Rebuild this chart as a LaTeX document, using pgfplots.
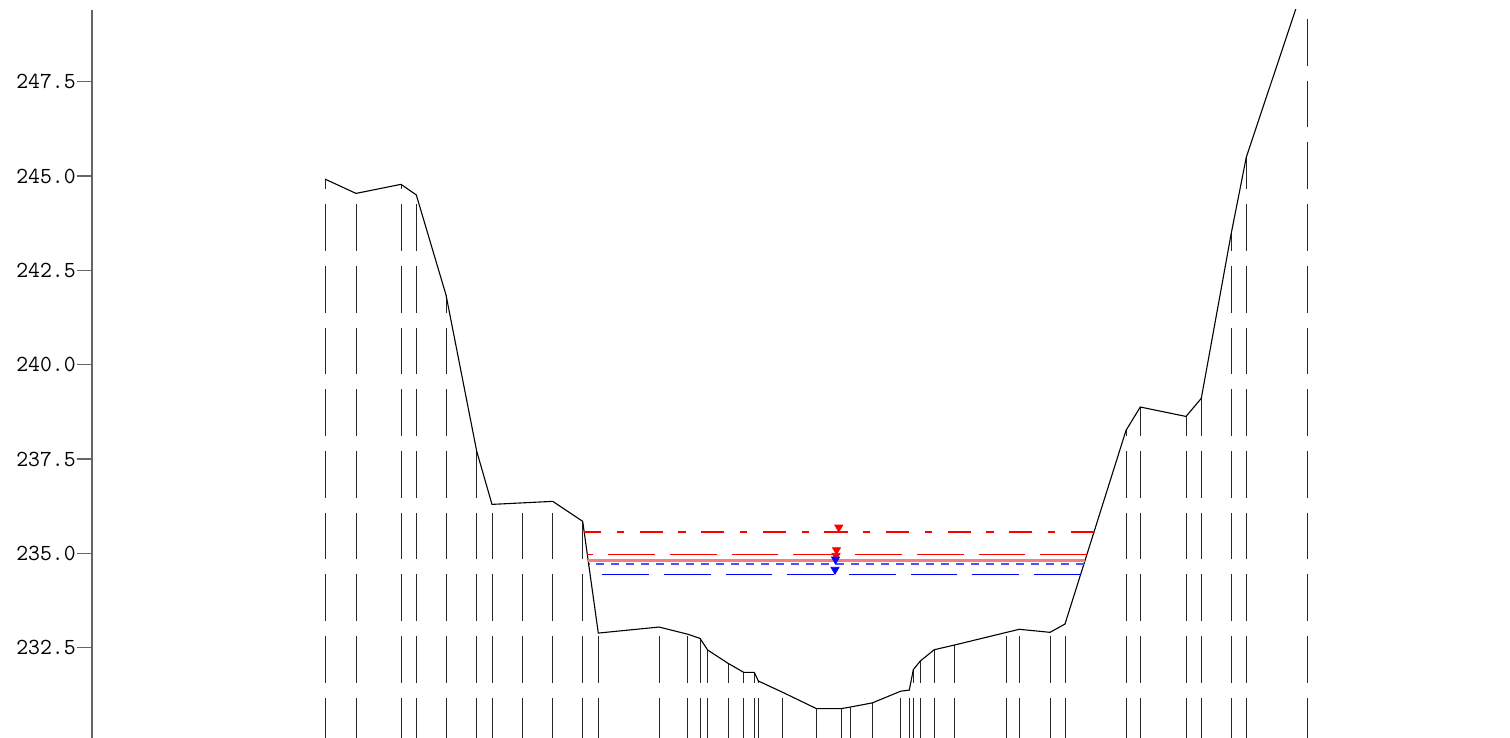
\documentclass[border=0pt]{standalone}
\usepackage{fontspec}
\usepackage{pgfplots}
\usepackage{pgfplotstable}
\pgfplotsset{compat=1.18}
\definecolor{salmonline}{RGB}{240,128,128}
\definecolor{lightblueline}{RGB}{80,80,255}
\definecolor{wsred}{RGB}{255,0,0}
\pgfplotstableread{
x y
325.0 244.92
356.0 244.54
401.0 244.78
416.3 244.50
446.0 241.85
476.7 237.71
492.0 236.30
522.3 236.34
552.7 236.38
582.7 235.85
598.3 232.89
659.0 233.05
687.7 232.86
700.0 232.75
707.7 232.44
728.0 232.09
743.7 231.85
754.3 231.85
758.3 231.62
782.7 231.32
816.3 230.89
841.7 230.89
850.3 230.93
872.3 231.04
900.7 231.35
909.3 231.38
913.3 231.92
920.3 232.15
934.3 232.45
954.0 232.57
1006.7 232.91
1019.3 232.99
1050.0 232.91
1065.0 233.13
1126.0 238.26
1140.3 238.88
1186.0 238.63
1201.3 239.11
1231.3 243.49
1246.3 245.50
1307.3 250.34
}\profile
\tikzset{wsdashdot/.style={dash pattern=on 11.65pt off 7.75pt on 3.65pt off 7.75pt}}
\begin{document}
\begin{tikzpicture}
\begin{axis}[
  at={(0,0)}, anchor=south west,
  scale only axis, width=709pt, height=364pt,
  xmin=92, xmax=1510, ymin=230.11, ymax=249.40,
  axis x line=none, axis y line*=left,
  axis line style={-, black!60, line width=0.6pt},
  ytick={232.5,235,237.5,240,242.5,245,247.5},
  xtick=\empty,
  tick align=outside, major tick length=7.5pt,
  tick style={black!60, line width=0.6pt},
  yticklabel style={font=\fontsize{11.5}{12}\selectfont\ttfamily, inner sep=0.5pt,
    /pgf/number format/fixed, /pgf/number format/fixed zerofill,
    /pgf/number format/precision=1, /pgf/number format/assume math mode=true},
  scaled y ticks=false,
  unbounded coords=jump,
  clip=true,
]
% vertical station lines, drawn from the bottom upwards
\addplot[black!85, line width=0.5pt, dash pattern=on 23.35pt off 7.5pt] coordinates {
(325.0,229.94) (325.0,244.92) (325.0,nan)
(356.0,229.94) (356.0,244.54) (356.0,nan)
(401.0,229.94) (401.0,244.78) (401.0,nan)
(416.3,229.94) (416.3,244.50) (416.3,nan)
(446.0,229.94) (446.0,241.85) (446.0,nan)
(476.7,229.94) (476.7,237.71) (476.7,nan)
(492.0,229.94) (492.0,236.30) (492.0,nan)
(522.3,229.94) (522.3,236.34) (522.3,nan)
(552.7,229.94) (552.7,236.38) (552.7,nan)
(582.7,229.94) (582.7,235.85) (582.7,nan)
(598.3,229.94) (598.3,232.89) (598.3,nan)
(659.0,229.94) (659.0,233.05) (659.0,nan)
(687.7,229.94) (687.7,232.86) (687.7,nan)
(700.0,229.94) (700.0,232.75) (700.0,nan)
(707.7,229.94) (707.7,232.44) (707.7,nan)
(728.0,229.94) (728.0,232.09) (728.0,nan)
(743.7,229.94) (743.7,231.85) (743.7,nan)
(754.3,229.94) (754.3,231.85) (754.3,nan)
(758.3,229.94) (758.3,231.62) (758.3,nan)
(782.7,229.94) (782.7,231.32) (782.7,nan)
(816.3,229.94) (816.3,230.89) (816.3,nan)
(841.7,229.94) (841.7,230.89) (841.7,nan)
(850.3,229.94) (850.3,230.93) (850.3,nan)
(872.3,229.94) (872.3,231.04) (872.3,nan)
(900.7,229.94) (900.7,231.35) (900.7,nan)
(909.3,229.94) (909.3,231.38) (909.3,nan)
(913.3,229.94) (913.3,231.92) (913.3,nan)
(920.3,229.94) (920.3,232.15) (920.3,nan)
(934.3,229.94) (934.3,232.45) (934.3,nan)
(954.0,229.94) (954.0,232.57) (954.0,nan)
(1006.7,229.94) (1006.7,232.91) (1006.7,nan)
(1019.3,229.94) (1019.3,232.99) (1019.3,nan)
(1050.0,229.94) (1050.0,232.91) (1050.0,nan)
(1065.0,229.94) (1065.0,233.13) (1065.0,nan)
(1126.0,229.94) (1126.0,238.26) (1126.0,nan)
(1140.3,229.94) (1140.3,238.88) (1140.3,nan)
(1186.0,229.94) (1186.0,238.63) (1186.0,nan)
(1201.3,229.94) (1201.3,239.11) (1201.3,nan)
(1231.3,229.94) (1231.3,243.49) (1231.3,nan)
(1246.3,229.94) (1246.3,245.50) (1246.3,nan)
(1307.3,229.94) (1307.3,250.34)
};
% ground profile
\addplot[black, line width=0.55pt] table[x=x,y=y] {\profile};
% water surfaces (drawn right to left)
\addplot[draw=wsred, line width=0.5pt, dash pattern=on 23.35pt off 7.5pt]
  coordinates {(1086.9,234.97) (587.3,234.97)};
\addplot[draw=salmonline, line width=1.35pt]
  coordinates {(1085.1,234.82) (588.1,234.82)};
\addplot[draw=lightblueline, line width=0.6pt, dash pattern=on 4.15pt off 3.35pt]
  coordinates {(1083.9,234.72) (588.7,234.72)};
\addplot[draw=blue, line width=0.5pt, dash pattern=on 23.35pt off 7.5pt]
  coordinates {(1080.7,234.45) (590.1,234.45)};
\addplot[wsdashdot, draw=wsred, line width=0.6pt]
  coordinates {(1094.0,235.57) (584.2,235.57)};
% level markers
\addplot[only marks, wsred, mark=triangle*, mark size=2.3pt, mark options={solid, fill=wsred, draw=wsred, yshift=2.3pt, rotate=180}]
  coordinates {(838.8,235.57) (836.5,234.97) (836.0,234.82)};
\addplot[only marks, blue, mark=triangle*, mark size=2.3pt, mark options={solid, fill=blue, draw=blue, yshift=2.3pt, rotate=180}]
  coordinates {(835.5,234.72) (835.0,234.45)};
\end{axis}
\pgfresetboundingbox
\path[use as bounding box] (-46pt,0pt) rectangle (709pt,369pt);
\end{tikzpicture}
\end{document}
